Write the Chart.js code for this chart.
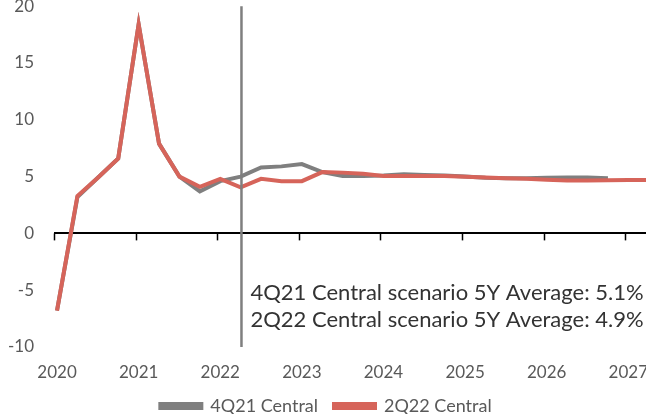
<!DOCTYPE html>
<html>
<head>
<meta charset="utf-8">
<script src="https://cdn.jsdelivr.net/npm/chart.js@4.4.1/dist/chart.umd.min.js"></script>
<style>
    html, body { margin: 0; padding: 0; background: #fff; overflow: hidden; }
    body { width: 646px; height: 414px; position: relative; }
    #grafico-cenarios { position: absolute; left: 0; top: -4px; }
</style>
</head>
<body>
<canvas id="grafico-cenarios" width="652" height="429"></canvas>
<script>
// ==========================================
// DADOS
// ==========================================

// trimestres (1T20 .. 2T27) como posição em anos
const trimestres = [
    2020, 2020.25, 2020.5, 2020.75,
    2021, 2021.25, 2021.5, 2021.75,
    2022, 2022.25, 2022.5, 2022.75,
    2023, 2023.25, 2023.5, 2023.75,
    2024, 2024.25, 2024.5, 2024.75,
    2025, 2025.25, 2025.5, 2025.75,
    2026, 2026.25, 2026.5, 2026.75,
    2027, 2027.25
];

const anos = [2020, 2021, 2022, 2023, 2024, 2025, 2026, 2027];
const ticksY = [-10, -5, 0, 5, 10, 15, 20];

const serie4Q21 = [
    -6.8, 3.2, 4.9, 6.6,
    18.4, 7.9, 5.0, 3.7,
    4.6, 5.0, 5.8, 5.9,
    6.1, 5.4, 5.05, 5.05,
    5.1, 5.2, 5.15, 5.1,
    5.0, 4.9, 4.85, 4.85,
    4.9, 4.92, 4.92, 4.85
];

const serie2Q22 = [
    -6.8, 3.3, 4.9, 6.6,
    18.4, 7.9, 5.0, 4.1,
    4.8, 4.05, 4.8, 4.6,
    4.6, 5.4, 5.35, 5.25,
    5.05, 5.05, 5.05, 5.05,
    4.98, 4.92, 4.85, 4.8,
    4.72, 4.65, 4.65, 4.68,
    4.7, 4.7
];

const nomesSeries = ['4Q21 Central', '2Q22 Central'];
const marcoVertical = 2022.26;
const textoMedias = [
    '4Q21 Central scenario 5Y Average: 5.1%',
    '2Q22 Central scenario 5Y Average: 4.9%'
];

const FONTE = 'Lato, "Open Sans", sans-serif';
const CINZA_TEXTO = '#595959';

function pontos(valores) {
    return valores.map((v, i) => ({ x: trimestres[i], y: v }));
}

// ==========================================
// PLUGIN: linha vertical, marcas do eixo zero e texto
// ==========================================

const pluginExtras = {
    id: 'extras',
    afterDatasetsDraw(chart) {
        const { ctx, chartArea, scales } = chart;
        const x = scales.x;
        const y = scales.y;
        const y0 = y.getPixelForValue(0);

        ctx.save();
        // marcas dos anos abaixo do eixo zero
        ctx.strokeStyle = '#000';
        ctx.lineWidth = 1.5;
        anos.forEach(a => {
            const px = Math.round(x.getPixelForValue(a - 0.037)) + 0.5;
            ctx.beginPath();
            ctx.moveTo(px, y0);
            ctx.lineTo(px, y0 + 7);
            ctx.stroke();
        });

        // linha vertical
        const xv = x.getPixelForValue(marcoVertical);
        ctx.strokeStyle = '#7F7F7F';
        ctx.lineWidth = 2.5;
        ctx.beginPath();
        ctx.moveTo(xv, chartArea.top);
        ctx.lineTo(xv, chartArea.bottom);
        ctx.stroke();

        // texto das médias
        ctx.fillStyle = '#333333';
        ctx.font = '22px ' + FONTE;
        ctx.textAlign = 'left';
        ctx.textBaseline = 'alphabetic';
        ctx.fillText(textoMedias[0], xv + 9, y.getPixelForValue(-5.87));
        ctx.fillText(textoMedias[1], xv + 9, y.getPixelForValue(-8.26));
        ctx.restore();
    }
};

// ==========================================
// GRÁFICO
// ==========================================

const ctx = document.getElementById('grafico-cenarios');

new Chart(ctx, {
    type: 'line',
    data: {
        datasets: [{
            label: nomesSeries[0],
            data: pontos(serie4Q21),
            borderColor: '#7F7F7F',
            backgroundColor: '#7F7F7F',
            borderWidth: 4,
            pointRadius: 0,
            pointHoverRadius: 0,
            tension: 0,
            order: 1
        }, {
            label: nomesSeries[1],
            data: pontos(serie2Q22),
            borderColor: '#D6645A',
            backgroundColor: '#D6645A',
            borderWidth: 4,
            pointRadius: 0,
            pointHoverRadius: 0,
            tension: 0,
            order: 0
        }]
    },
    options: {
        responsive: false,
        animation: false,
        layout: { padding: 0, autoPadding: false },
        plugins: {
            tooltip: { enabled: false },
            legend: {
                position: 'bottom',
                labels: {
                    boxWidth: 41,
                    boxHeight: 4,
                    padding: 16,
                    color: CINZA_TEXTO,
                    font: { family: FONTE, size: 18 },
                    sort: (a, b) => a.datasetIndex - b.datasetIndex
                }
            }
        },
        scales: {
            x: {
                type: 'linear',
                min: 2019.963,
                max: 2027.29,
                afterBuildTicks: scale => { scale.ticks = anos.map(v => ({ value: v })); },
                ticks: {
                    color: CINZA_TEXTO,
                    font: { family: FONTE, size: 17, lineHeight: 1 },
                    padding: 0,
                    maxRotation: 0,
                    autoSkip: false,
                    callback: v => String(v)
                },
                grid: {
                    drawOnChartArea: false,
                    drawTicks: true,
                    tickLength: 17,
                    color: 'rgba(0,0,0,0)'
                },
                border: { display: false }
            },
            y: {
                min: -10,
                max: 20,
                afterBuildTicks: scale => { scale.ticks = ticksY.map(v => ({ value: v })); },
                afterFit: scale => { scale.width = 54; },
                ticks: {
                    color: CINZA_TEXTO,
                    font: { family: FONTE, size: 17 },
                    padding: 0
                },
                grid: {
                    drawTicks: true,
                    tickLength: 20,
                    tickColor: 'rgba(0,0,0,0)',
                    lineWidth: 2,
                    color: c => (c.tick && c.tick.value === 0) ? '#000000' : 'rgba(0,0,0,0)'
                },
                border: { display: false }
            }
        }
    },
    plugins: [pluginExtras]
});
</script>
</body>
</html>
